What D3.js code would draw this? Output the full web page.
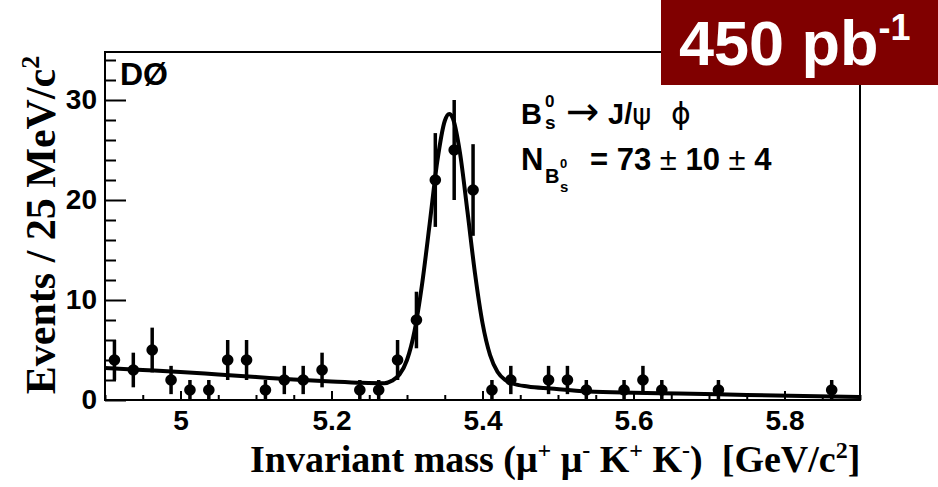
<!DOCTYPE html>
<html><head><meta charset="utf-8">
<script src="https://cdn.jsdelivr.net/npm/d3@7"></script>
<style>body{margin:0;background:#fff;} svg{display:block;}</style>
</head><body>
<svg id="chart" width="938" height="487"></svg>
<script>
// ---- data ----
const massBins = [4.9125, 4.9375, 4.9625, 4.9875, 5.0125, 5.0375, 5.0625, 5.0875, 5.1125, 5.1375,
                  5.1625, 5.1875, 5.2375, 5.2625, 5.2875, 5.3125, 5.3375, 5.3625, 5.3875, 5.4125,
                  5.4375, 5.4875, 5.5125, 5.5375, 5.5875, 5.6125, 5.6375, 5.7125, 5.8625];
const events   = [4, 3, 5, 2, 1, 1, 4, 4, 1, 2,
                  2, 3, 1, 1, 4, 8, 22, 25, 21, 1,
                  2, 2, 2, 1, 1, 2, 1, 1, 1];
const fitMass  = [4.90, 4.95, 5.00, 5.05, 5.10, 5.15, 5.20, 5.24, 5.27, 5.28, 5.29, 5.30, 5.31, 5.32,
                  5.33, 5.34, 5.35, 5.356, 5.36, 5.37, 5.38, 5.39, 5.40, 5.41, 5.42, 5.43, 5.44,
                  5.46, 5.49, 5.54, 5.60, 5.66, 5.75, 5.90];
const fitValue = [3.2, 3.0, 2.8, 2.55, 2.3, 2.05, 1.85, 1.72, 1.68, 1.92, 2.55, 4.0, 6.9, 11.6,
                  17.6, 23.8, 27.9, 28.6, 28.3, 24.8, 18.9, 12.7, 7.7, 4.5, 2.8, 2.0, 1.65,
                  1.35, 1.15, 0.85, 0.72, 0.65, 0.5, 0.3];
const xMajorTicks = [5.0, 5.2, 5.4, 5.6, 5.8];
const xTickLabels = ["5", "5.2", "5.4", "5.6", "5.8"];
const yMajorTicks = [0, 10, 20, 30];
const yTickLabels = ["0", "10", "20", "30"];
const xDomain = [4.9, 5.9];
const yDomain = [0, 34.8];

// ---- drawing ----
const SANS = "'Liberation Sans', Arial, Helvetica, sans-serif";
const SERIF = "'Liberation Serif', 'Times New Roman', serif";
const SYM = "'DejaVu Sans', 'Liberation Sans', sans-serif";
const svg = d3.select("#chart");
const L = 105, R = 860, T = 52, B = 400;
const x = d3.scaleLinear().domain(xDomain).range([L, R]);
const y = d3.scaleLinear().domain(yDomain).range([B, T]);

svg.append("rect").attr("width", 938).attr("height", 487).attr("fill", "#fff");

// minor / major ticks
const xMinor = d3.range(4.9, 5.9001, 0.05).filter(v => !xMajorTicks.some(t => Math.abs(t - v) < 1e-6));
const yMinor = d3.range(0, 34.8, 2).filter(v => v % 10 !== 0);

const gx = svg.append("g").attr("transform", `translate(0,${B})`);
gx.call(d3.axisBottom(x).tickValues(xMinor).tickSizeInner(-5).tickSizeOuter(0).tickFormat(""));
gx.select(".domain").remove();
const gx2 = svg.append("g").attr("transform", `translate(0,${B})`);
gx2.call(d3.axisBottom(x).tickValues(xMajorTicks).tickSizeInner(-9).tickSizeOuter(0).tickPadding(10)
  .tickFormat((d, i) => xTickLabels[i]));
gx2.select(".domain").remove();

const gy = svg.append("g").attr("transform", `translate(${L},0)`);
gy.call(d3.axisLeft(y).tickValues(yMinor).tickSizeInner(-11).tickSizeOuter(0).tickFormat(""));
gy.select(".domain").remove();
const gy2 = svg.append("g").attr("transform", `translate(${L},0)`);
gy2.call(d3.axisLeft(y).tickValues(yMajorTicks).tickSizeInner(-21).tickSizeOuter(0).tickPadding(8)
  .tickFormat((d, i) => yTickLabels[i]));
gy2.select(".domain").remove();

svg.selectAll(".tick line").attr("stroke", "#000").attr("stroke-width", 2);
svg.selectAll(".tick text").attr("font-family", SANS).attr("font-weight", "bold")
  .attr("font-size", 28).attr("fill", "#000");

// frame
svg.append("rect").attr("x", L).attr("y", T).attr("width", R - L).attr("height", B - T)
  .attr("fill", "none").attr("stroke", "#000").attr("stroke-width", 2);

// clip
svg.append("clipPath").attr("id", "clip").append("rect")
  .attr("x", L).attr("y", T).attr("width", R - L).attr("height", B - T);
const plot = svg.append("g").attr("clip-path", "url(#clip)");

// fit curve
const fitData = fitMass.map((m, i) => [m, fitValue[i]]);
plot.append("path").datum(fitData)
  .attr("d", d3.line().x(d => x(d[0])).y(d => y(d[1])).curve(d3.curveMonotoneX))
  .attr("fill", "none").attr("stroke", "#000").attr("stroke-width", 4)
  .attr("stroke-linejoin", "round");

// data points
const pts = massBins.map((m, i) => ({m, n: events[i], e: Math.sqrt(events[i])}));
plot.selectAll("line.err").data(pts).join("line").attr("class", "err")
  .attr("x1", d => x(d.m)).attr("x2", d => x(d.m))
  .attr("y1", d => y(Math.max(0, d.n - d.e))).attr("y2", d => y(d.n + d.e))
  .attr("stroke", "#000").attr("stroke-width", 3.5);
plot.selectAll("circle.pt").data(pts).join("circle").attr("class", "pt")
  .attr("cx", d => x(d.m)).attr("cy", d => y(d.n)).attr("r", 5.8).attr("fill", "#000");

// rich text helper
function rich(parent, xPos, yPos, parts, font, size, weight, fill) {
  const t = parent.append("text").attr("x", xPos).attr("y", yPos)
    .attr("font-family", font).attr("font-size", size).attr("font-weight", weight || "bold")
    .attr("fill", fill || "#000").style("white-space", "pre");
  let shift = 0;
  parts.forEach(p => {
    const target = p.dy || 0;
    const ts = t.append("tspan").text(p.t).attr("dy", target - shift);
    if (p.size) ts.attr("font-size", p.size);
    if (p.font) ts.attr("font-family", p.font);
    if (p.weight) ts.attr("font-weight", p.weight);
    shift = target;
  });
  return t;
}

// axis titles
rich(svg, 250, 472, [
  {t: "Invariant mass (μ"}, {t: "+", dy: -14, size: 24}, {t: " μ"}, {t: "-", dy: -14, size: 24},
  {t: " K"}, {t: "+", dy: -14, size: 24}, {t: " K"}, {t: "-", dy: -14, size: 24},
  {t: ")  [GeV/c"}, {t: "2", dy: -14, size: 24}, {t: "]"}
], SERIF, 38);

const yt = svg.append("g").attr("transform", "translate(55,225) rotate(-90)");
rich(yt, 0, 0, [{t: "Events / 25 MeV/c"}, {t: "2", dy: -16, size: 26}], SERIF, 42)
  .attr("text-anchor", "middle");

// DØ label
rich(svg, 120, 85, [{t: "DØ"}], SANS, 32);

// decay label
rich(svg, 521, 124, [{t: "B"}], SANS, 29);
rich(svg, 545, 107, [{t: "0"}], SANS, 17);
rich(svg, 545, 129, [{t: "s"}], SANS, 19);
rich(svg, 566, 125, [{t: "→"}], SYM, 40, "normal");
rich(svg, 608, 124, [{t: "J/"}, {t: "ψ", font: SYM, weight: "normal"}], SANS, 29);
rich(svg, 671, 124, [{t: "ϕ"}], SYM, 30, "normal");

rich(svg, 521, 170, [{t: "N"}], SANS, 31);
rich(svg, 545, 183, [{t: "B"}], SANS, 20);
rich(svg, 560, 168, [{t: "0"}], SANS, 13);
rich(svg, 560, 192, [{t: "s"}], SANS, 15);
rich(svg, 590, 170, [{t: "= 73 "}, {t: "±", weight: "normal"}, {t: " 10 "}, {t: "±", weight: "normal"}, {t: " 4"}], SANS, 31);

// luminosity box
svg.append("rect").attr("x", 661).attr("y", 0).attr("width", 277).attr("height", 85).attr("fill", "#800000");
rich(svg, 679, 65, [{t: "450 pb"}, {t: "-1", dy: -25, size: 36}], SANS, 63, "bold", "#fff");
</script>
</body></html>
